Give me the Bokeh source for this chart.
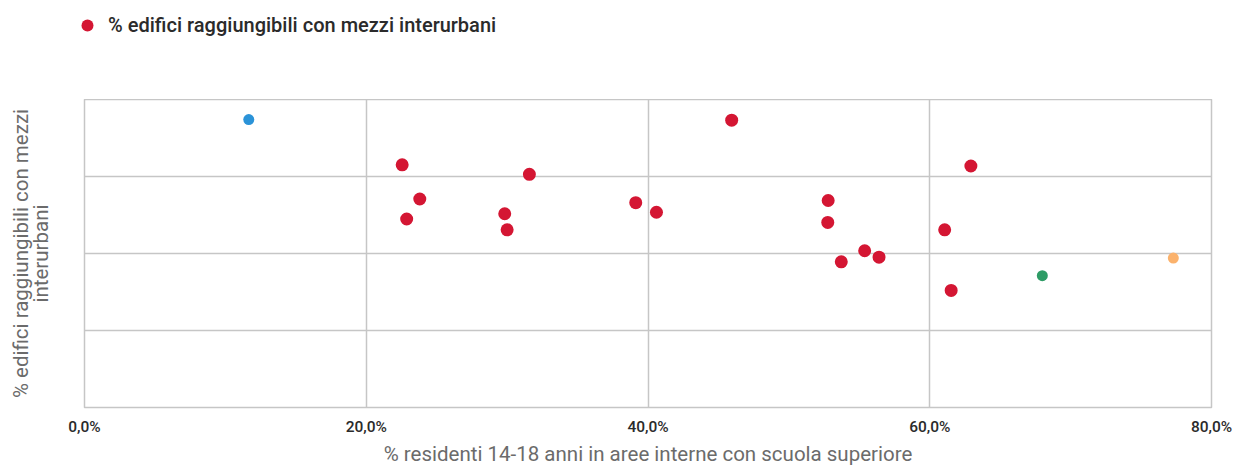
from bokeh.plotting import figure
from bokeh.models import Legend, LegendItem, FixedTicker, Range1d, LinearAxis
from bokeh.layouts import column, row
from bokeh.embed import file_html
from bokeh.resources import INLINE

# ---- data ----
x_ticks = [0, 20, 40, 60, 80]
x_tick_labels = ["0,0%", "20,0%", "40,0%", "60,0%", "80,0%"]
y_ticks = [0, 25, 50, 75, 100]

red_x = [45.94, 62.92, 39.13, 40.60, 52.79, 52.76, 61.06, 55.38, 56.40, 53.72,
         61.52, 22.55, 31.58, 23.80, 22.87, 29.83, 30.00]
red_y = [93.3, 78.4, 66.5, 63.4, 67.2, 60.1, 57.7, 50.9, 48.8, 47.3,
         38.0, 78.8, 75.7, 67.7, 61.2, 62.9, 57.7]
blue_x = [11.66]
blue_y = [93.5]
green_x = [67.99]
green_y = [42.8]
orange_x = [77.29]
orange_y = [48.5]

series_name = "% edifici raggiungibili con mezzi interurbani"
x_title = "% residenti 14-18 anni in aree interne con scuola superiore"
y_title_1 = "% edifici raggiungibili con mezzi"
y_title_2 = "interurbani"

FONT = "Roboto"
FONT_MED = "Roboto Medium, Roboto"
GRID = "#c6c6c6"
RED = "#d41633"

# ---- header holding the legend (its frame shows none of the data) ----
head = figure(width=1234, height=99, output_backend="svg", toolbar_location=None,
              x_range=Range1d(-1000, -999), y_range=Range1d(-1000, -999),
              x_axis_type=None, y_axis_type=None, min_border=0)
head.outline_line_color = None
head.grid.visible = False
legend_r = head.scatter(red_x, red_y, size=13, color=RED, line_color=None)
legend = Legend(items=[LegendItem(label=series_name, renderers=[legend_r])],
                location=(72, 59), orientation="horizontal",
                padding=0, margin=0, spacing=0, border_line_color=None,
                background_fill_alpha=0, glyph_width=30, glyph_height=30,
                label_height=30, label_standoff=6,
                label_text_font=FONT_MED, label_text_font_size="20px",
                label_text_color="#2b2b2b")
head.add_layout(legend, "center")

# ---- main chart ----
p = figure(width=1234, height=369, output_backend="svg", toolbar_location=None,
           x_range=Range1d(0, 80), y_range=Range1d(0, 100),
           min_border_left=84, min_border_right=23, min_border_top=0, min_border_bottom=58)

p.outline_line_color = GRID
p.outline_line_width = 1.5
p.background_fill_color = "white"
p.border_fill_color = "white"

p.xgrid.ticker = FixedTicker(ticks=x_ticks)
p.ygrid.ticker = FixedTicker(ticks=y_ticks)
p.xgrid.grid_line_color = GRID
p.ygrid.grid_line_color = GRID
p.xgrid.grid_line_width = 1.5
p.ygrid.grid_line_width = 1.5

p.xaxis.ticker = FixedTicker(ticks=x_ticks)
p.xaxis.major_label_overrides = {t: l for t, l in zip(x_ticks, x_tick_labels)}
p.xaxis.axis_line_color = None
p.xaxis.major_tick_line_color = None
p.xaxis.minor_tick_line_color = None
p.xaxis.major_tick_out = 0
p.xaxis.major_tick_in = 0
p.xaxis.major_label_standoff = 10
p.xaxis.major_label_text_font = FONT_MED
p.xaxis.major_label_text_font_size = "15.5px"
p.xaxis.major_label_text_color = "#2b2b2b"
p.xaxis.axis_label = x_title
p.xaxis.axis_label_text_font = FONT
p.xaxis.axis_label_text_font_size = "20.5px"
p.xaxis.axis_label_text_font_style = "normal"
p.xaxis.axis_label_text_color = "#6b6b6b"
p.xaxis.axis_label_standoff = 3


def style_yaxis(ax, label, standoff):
    ax.ticker = FixedTicker(ticks=[])
    ax.axis_line_color = None
    ax.major_tick_line_color = None
    ax.minor_tick_line_color = None
    ax.major_tick_out = 0
    ax.major_tick_in = 0
    ax.major_label_standoff = 0
    ax.axis_label = label
    ax.axis_label_text_font = FONT
    ax.axis_label_text_font_size = "20.5px"
    ax.axis_label_text_font_style = "normal"
    ax.axis_label_text_color = "#6b6b6b"
    ax.axis_label_standoff = standoff


style_yaxis(p.yaxis[0], y_title_2, 32)
outer = LinearAxis()
style_yaxis(outer, y_title_1, -7)
p.add_layout(outer, "left")

p.scatter(red_x, red_y, size=13, color=RED, line_color=None)
p.scatter(blue_x, blue_y, size=11, color="#2b93d8", line_color=None)
p.scatter(green_x, green_y, size=11, color="#2e9c66", line_color=None)
p.scatter(orange_x, orange_y, size=11, color="#fbb26c", line_color=None)

layout = column(row(head, spacing=0), p, spacing=0)
open("out.html", "w").write(file_html(layout, INLINE))
